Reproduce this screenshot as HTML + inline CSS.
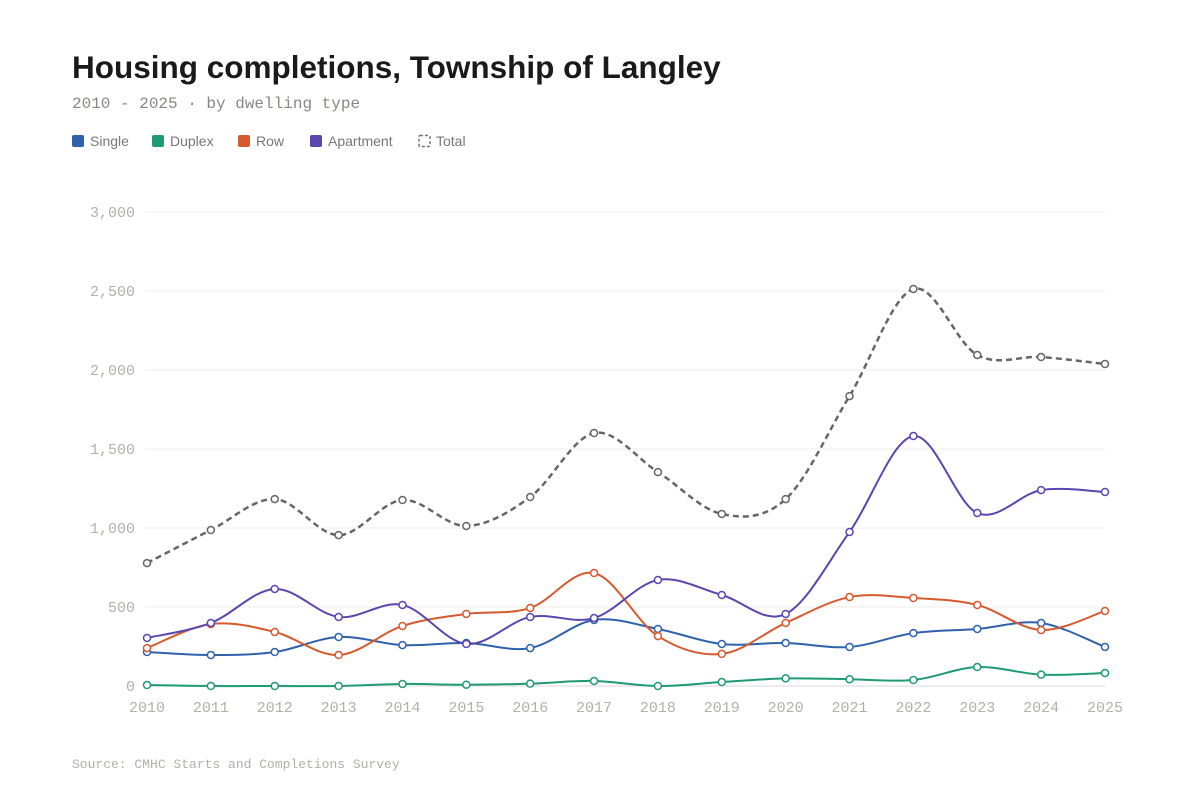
<!DOCTYPE html>
<html><head><meta charset="utf-8">
<style>
body{margin:0;background:#fff;width:1200px;height:800px;overflow:hidden;font-family:"Liberation Sans",sans-serif}
svg{position:absolute;left:0;top:0}
</style></head>
<body>
<svg id="chart" width="1200" height="800">
<text x="72" y="78" font-size="31.5" font-weight="bold" fill="#1a1a1a">Housing completions, Township of Langley</text>
<text x="72" y="108" font-family="Liberation Mono, monospace" font-size="16" fill="#8a8780">2010 - 2025 · by dwelling type</text>
<g id="legend"></g>
<g id="grid"></g>
<g id="axis"></g>
<g id="series"></g>
<text x="72" y="768" font-family="Liberation Mono, monospace" font-size="13" fill="#b3b0a6">Source: CMHC Starts and Completions Survey</text>
</svg>
<script>
const years=[2010,2011,2012,2013,2014,2015,2016,2017,2018,2019,2020,2021,2022,2023,2024,2025];
const single=[215,196,215,310,259,272,240,418,361,266,272,247,335,361,399,247];
const duplex=[6,0,0,0,13,8,15,32,0,25,48,43,38,120,72,82];
const row=[240,392,342,196,380,456,494,715,316,203,399,563,557,513,354,475];
const apartment=[304,399,614,437,513,266,437,430,671,576,456,975,1582,1095,1240,1228];
const total=[778,987,1183,955,1177,1013,1196,1601,1354,1089,1183,1835,2513,2095,2082,2038];
const yTicks=[0,500,1000,1500,2000,2500,3000];
const NS="http://www.w3.org/2000/svg";
const x0=147,x1=1105,y0=686,y1=212,yMax=3000;
const X=v=>x0+(v-years[0])/(years[years.length-1]-years[0])*(x1-x0);
const Y=v=>y0-v/yMax*(y0-y1);
function mk(t,a,p){const e=document.createElementNS(NS,t);for(const k in a)e.setAttribute(k,a[k]);p.appendChild(e);return e;}
const grid=document.getElementById('grid'),axis=document.getElementById('axis'),ser=document.getElementById('series'),leg=document.getElementById('legend');
yTicks.forEach(t=>{
  const l=mk('line',{x1:x0-2,x2:x1,y1:Y(t),y2:Y(t),stroke:t===0?'#dcdad4':'#eeede9','stroke-width':1},grid);
  
  
  const tx=mk('text',{x:135,y:Y(t)+5,'text-anchor':'end','font-family':'Liberation Mono, monospace','font-size':15,fill:'#b3b0a6'},axis);
  tx.textContent=t.toLocaleString('en-US');
  
  
});
years.forEach(yr=>{
  const tx=mk('text',{x:X(yr),y:712,'text-anchor':'middle','font-family':'Liberation Mono, monospace','font-size':15,fill:'#b3b0a6'},axis);
  tx.textContent=yr;
  
  
});
function path(vals){
  const p=vals.map((v,i)=>[X(years[i]),Y(v)]);
  let d='M'+p[0][0]+','+p[0][1];
  for(let i=0;i<p.length-1;i++){
    const a=p[Math.max(i-1,0)],b=p[i],c=p[i+1],e=p[Math.min(i+2,p.length-1)];
    const c1=[b[0]+(c[0]-a[0])/6,b[1]+(c[1]-a[1])/6],c2=[c[0]-(e[0]-b[0])/6,c[1]-(e[1]-b[1])/6];
    d+=`C${c1[0]},${c1[1]} ${c2[0]},${c2[1]} ${c[0]},${c[1]}`;
  }
  return d;
}
const defs=[['single',single,'#2f62ab','Single'],['duplex',duplex,'#1f9a72','Duplex'],['row',row,'#d65a2e','Row'],['apartment',apartment,'#5b46b0','Apartment'],['total',total,'#666','Total']];
defs.forEach(([n,vals,col])=>{
  const pth=mk('path',{d:path(vals),fill:'none',stroke:col,'stroke-width':n==='total'?2.5:2,'stroke-dasharray':n==='total'?'6 4':'none'},ser);
  
  
  vals.forEach((v,i)=>{
    const c=mk('circle',{cx:X(years[i]),cy:Y(v),r:3.5,fill:'#fff',stroke:col,'stroke-width':1.5},ser);
    
    
  });
});
let lx=72;
const legW=[80,86,72,108,60];
defs.forEach(([n,vals,col,lab],i)=>{
  const g=mk('g',{},leg);
  
  
  if(n==='total') mk('rect',{x:lx+1,y:135.5,width:11,height:11,rx:1,fill:'none',stroke:'#777','stroke-width':1.5,'stroke-dasharray':'3 2'},g);
  else mk('rect',{x:lx,y:135,width:12,height:12,rx:2,fill:col},g);
  const t=mk('text',{x:lx+18,y:146,'font-size':14,fill:'#777'},g);
  t.textContent=lab;
  lx+=legW[i];
});
</script>
</body></html>
